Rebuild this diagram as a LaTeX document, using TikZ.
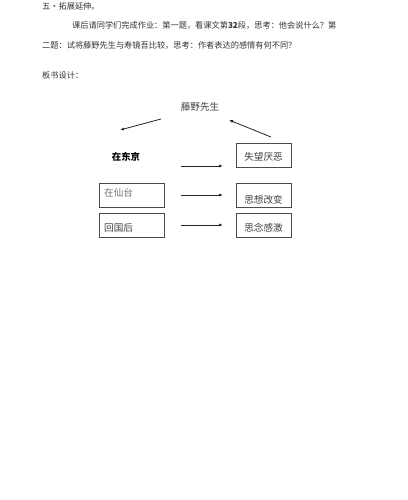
\documentclass[tikz,border=0pt]{standalone}
\usepackage{fontspec}
\setmainfont{Noto Sans CJK SC}
\usetikzlibrary{arrows.meta}
\begin{document}
\begin{tikzpicture}[x=1pt,y=-1pt,
  txt/.style={inner sep=0pt,anchor=west,text=black!80,font=\fontsize{8.2}{10}\selectfont},
  lbl/.style={inner sep=0pt,text=black!75,font=\fontsize{9.6}{11}\selectfont},
  boxr/.style={draw=black!70,line width=0.6pt,minimum width=55pt,minimum height=24pt,inner sep=0pt},
  boxl/.style={draw=black!70,line width=0.6pt,minimum width=65pt,minimum height=24pt,inner sep=0pt},
  arr/.style={draw=black!85,line width=0.8pt,-{Latex[length=4pt,width=3pt]}}]
\useasboundingbox (0,0) rectangle (407,500);
\fill[white] (0,0) rectangle (407,500);
% text paragraph
\node[txt] (t0) at (42,6) {五•拓展延伸。};
\node[txt] (t1) at (72,25) {课后请同学们完成作业：第一题，看课文第\textbf{32}段，思考：他会说什么？第};
\node[txt] (t2) at (42,45) {二题：试将藤野先生与寿镜吾比较，思考：作者表达的感情有何不同？};
\node[txt] (t3) at (42,75) {板书设计：};
% diagram
\node[lbl] (teng) at (200,107) {藤野先生};
\coordinate (la) at (161,119);
\coordinate (lb) at (120,130);
\draw[arr] (la) -- (lb);
\node[lbl,font=\fontsize{9.4}{11}\selectfont\bfseries,text=black] (dj) at (126,157) {在东京};
\node[boxr] (r1) at (263.5,155) {};
\node[lbl] (r1t) at (263.5,157) {失望厌恶};
\coordinate (ra) at (271,137);
\coordinate (rb) at (229,120);
\draw[arr] (ra) -- (rb);
\node[boxl] (l2) at (131.5,195.5) {};
\node[lbl,anchor=west,text=black!55] (l2t) at (104,193) {在仙台};
\node[boxr] (r2) at (263.5,195.5) {};
\node[lbl] (r2t) at (263.5,200) {思想改变};
\node[boxl] (l3) at (131.5,225) {};
\node[lbl,anchor=west] (l3t) at (104,228) {回国后};
\node[boxr] (r3) at (263.5,225) {};
\node[lbl] (r3t) at (263.5,228) {思念感激};
\coordinate (a1s) at (181,166);
\coordinate (a1e) at (223,166);
\draw[arr] (a1s) -- (a1e);
\coordinate (a2s) at (181,195);
\coordinate (a2e) at (223,195);
\draw[arr] (a2s) -- (a2e);
\coordinate (a3s) at (181,225);
\coordinate (a3e) at (223,225);
\draw[arr] (a3s) -- (a3e);
\end{tikzpicture}
\end{document}
